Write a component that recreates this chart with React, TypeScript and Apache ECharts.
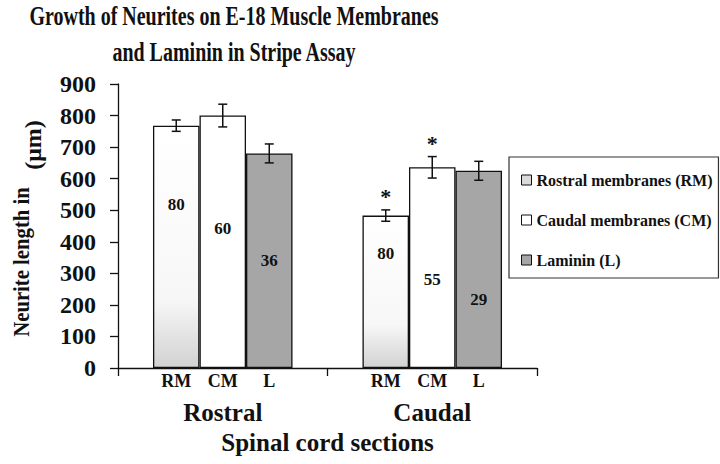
import React, { useEffect, useRef } from "react";
import * as echarts from "echarts";

// ---- data ----
const groups = ["Rostral", "Caudal"];
const seriesNames = ["Rostral membranes (RM)", "Caudal membranes (CM)", "Laminin (L)"];
const shortNames = ["RM", "CM", "L"];

const rmValues = [768, 483];
const cmValues = [800, 636];
const lValues = [680, 625];

const rmErrors = [18, 18];
const cmErrors = [36, 34];
const lErrors = [30, 30];

// number of neurites written inside each bar, and the height (µm) where it sits
const rmCounts = [80, 80];
const cmCounts = [60, 55];
const lCounts = [36, 29];
const rmCountAt = [517, 364];
const cmCountAt = [441, 279];
const lCountAt = [342, 216];

// significance asterisks
const rmSignificant = [false, true];
const cmSignificant = [false, true];
const lSignificant = [false, false];

const yMin = 0;
const yMax = 900;
const yStep = 100;

const FONT = '"Liberation Serif", "Times New Roman", serif';
const INK = "#111111";
const BAR_FRAC = 0.222;

export default function App() {
  const ref = useRef<HTMLDivElement>(null);

  useEffect(() => {
    if (!ref.current) return;
    const chart = echarts.init(ref.current, null, { renderer: "svg" });

    const values = [rmValues, cmValues, lValues];
    const errors = [rmErrors, cmErrors, lErrors];
    const counts = [rmCounts, cmCounts, lCounts];
    const countAt = [rmCountAt, cmCountAt, lCountAt];
    const signif = [rmSignificant, cmSignificant, lSignificant];

    const fills: any[] = [
      {
        type: "linear",
        x: 0,
        y: 0,
        x2: 0,
        y2: 1,
        colorStops: [
          { offset: 0, color: "#ffffff" },
          { offset: 0.72, color: "#f7f7f7" },
          { offset: 1, color: "#d2d2d2" },
        ],
      },
      "#ffffff",
      "#a6a6a6",
    ];
    const legendFills = ["#dadada", "#ffffff", "#a6a6a6"];

    const barSeries = seriesNames.map((name, s) => ({
      name,
      type: "bar",
      data: values[s],
      barWidth: BAR_FRAC * 100 + "%",
      barGap: "0%",
      itemStyle: { color: fills[s], borderColor: INK, borderWidth: 1.3 },
      label: {
        show: true,
        position: "bottom",
        distance: 4,
        formatter: () => shortNames[s],
        fontFamily: FONT,
        fontWeight: "bold",
        fontSize: 18,
        color: INK,
      },
      emphasis: { disabled: true },
    }));

    const errData: number[][] = [];
    for (let s = 0; s < 3; s++) {
      for (let g = 0; g < groups.length; g++) {
        errData.push([g, s, values[s][g], errors[s][g], counts[s][g], countAt[s][g], signif[s][g] ? 1 : 0]);
      }
    }

    const errSeries = {
      type: "custom",
      name: "errors",
      data: errData,
      encode: { x: 0, y: 2 },
      z: 10,
      renderItem: (_params: any, api: any) => {
        const g = api.value(0);
        const s = api.value(1);
        const v = api.value(2);
        const e = api.value(3);
        const n = api.value(4);
        const ny = api.value(5);
        const star = api.value(6);
        const c = api.coord([g, 0]);
        const band = api.size([1, 0])[0];
        const bw = band * BAR_FRAC;
        const x = c[0] + (s - 1) * bw;
        const top = api.coord([g, v + e])[1];
        const bot = api.coord([g, v - e])[1];
        const cap = 4.5;
        const ls = { stroke: INK, lineWidth: 1.5 };
        const children: any[] = [
          { type: "line", shape: { x1: x, y1: top, x2: x, y2: bot }, style: ls },
          { type: "line", shape: { x1: x - cap, y1: top, x2: x + cap, y2: top }, style: ls },
          { type: "line", shape: { x1: x - cap, y1: bot, x2: x + cap, y2: bot }, style: ls },
          {
            type: "text",
            x,
            y: api.coord([g, ny])[1],
            style: {
              text: String(n),
              fontFamily: FONT,
              fontWeight: "bold",
              fontSize: 17,
              fill: INK,
              align: "center",
              verticalAlign: "middle",
            },
          },
        ];
        if (star) {
          children.push({
            type: "text",
            x,
            y: top - 13,
            style: {
              text: "*",
              fontFamily: FONT,
              fontWeight: "bold",
              fontSize: 22,
              fill: INK,
              align: "center",
              verticalAlign: "middle",
            },
          });
        }
        return { type: "group", children };
      },
    };

    chart.setOption({
      animation: false,
      backgroundColor: "#ffffff",
      grid: { left: 118, right: 183, top: 84, bottom: 96, containLabel: false },
      legend: {
        data: seriesNames.map((name, s) => ({
          name,
          itemStyle: { color: legendFills[s], borderColor: INK, borderWidth: 1 },
        })),
        orient: "vertical",
        left: 509,
        top: 157,
        padding: [15, 6, 10, 12],
        itemGap: 24,
        itemWidth: 10,
        itemHeight: 10,
        icon: "rect",
        borderColor: "#333",
        borderWidth: 1.2,
        textStyle: { fontFamily: FONT, fontWeight: "bold", fontSize: 16, color: INK },
        selectedMode: false,
      },
      xAxis: {
        type: "category",
        data: groups,
        axisLine: { lineStyle: { color: INK, width: 1.3 } },
        axisTick: { show: true, length: 8, lineStyle: { color: INK, width: 1.3 } },
        axisLabel: {
          margin: 32,
          fontFamily: FONT,
          fontWeight: "bold",
          fontSize: 25,
          color: INK,
        },
        name: "Spinal cord sections",
        nameLocation: "middle",
        nameGap: 58,
        nameTextStyle: { fontFamily: FONT, fontWeight: "bold", fontSize: 25, color: INK },
      },
      yAxis: {
        type: "value",
        min: yMin,
        max: yMax,
        interval: yStep,
        splitLine: { show: false },
        axisLine: { show: true, lineStyle: { color: INK, width: 1.3 } },
        axisTick: { show: true, length: 8, lineStyle: { color: INK, width: 1.3 } },
        axisLabel: {
          margin: 22,
          fontFamily: FONT,
          fontWeight: "bold",
          fontSize: 24,
          color: INK,
        },
      },
      graphic: [
        {
          type: "text",
          x: 234,
          y: 16,
          scaleX: 0.74,
          style: {
            text: "Growth of Neurites on E-18 Muscle Membranes",
            fontFamily: FONT,
            fontWeight: "bold",
            fontSize: 27,
            fill: INK,
            align: "center",
            verticalAlign: "middle",
          },
        },
        {
          type: "text",
          x: 234,
          y: 52,
          scaleX: 0.74,
          style: {
            text: "and Laminin in Stripe Assay",
            fontFamily: FONT,
            fontWeight: "bold",
            fontSize: 27,
            fill: INK,
            align: "center",
            verticalAlign: "middle",
          },
        },
        {
          type: "text",
          x: 22,
          y: 262,
          rotation: Math.PI / 2,
          scaleX: 0.9,
          style: {
            text: "Neurite length in",
            fontFamily: FONT,
            fontWeight: "bold",
            fontSize: 23,
            fill: INK,
            align: "center",
            verticalAlign: "middle",
          },
        },
        {
          type: "text",
          x: 33,
          y: 145,
          rotation: Math.PI / 2,
          style: {
            text: "(μm)",
            fontFamily: FONT,
            fontWeight: "bold",
            fontSize: 24,
            fill: INK,
            align: "center",
            verticalAlign: "middle",
          },
        },
      ],
      series: [...barSeries, errSeries],
    });

    return () => chart.dispose();
  }, []);

  return (
    <div
      ref={ref}
      style={{ position: "fixed", left: 0, top: 0, width: 720, height: 464, background: "#fff" }}
    />
  );
}
